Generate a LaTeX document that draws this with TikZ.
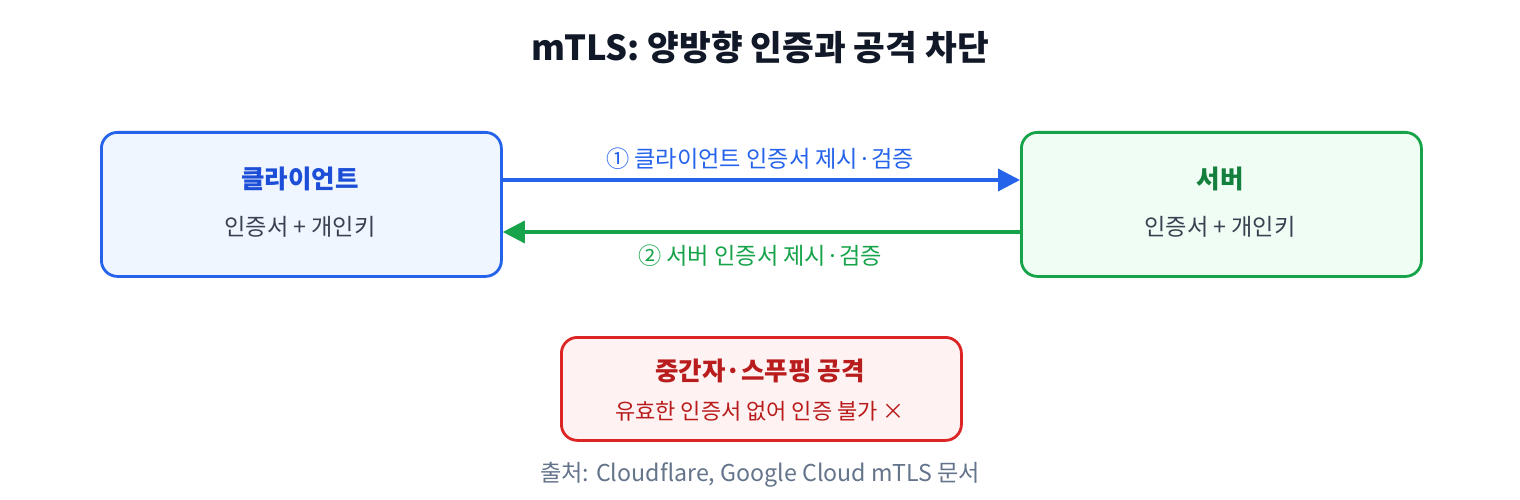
\documentclass[tikz,border=0pt]{standalone}
\usepackage{fontspec}
\setmainfont{Noto Sans CJK KR}
\usetikzlibrary{arrows.meta}
\definecolor{titlec}{HTML}{111827}
\definecolor{bluestroke}{HTML}{2563EB}
\definecolor{bluefill}{HTML}{EFF6FF}
\definecolor{bluetext}{HTML}{1D4ED8}
\definecolor{greenstroke}{HTML}{16A34A}
\definecolor{greenfill}{HTML}{F0FDF4}
\definecolor{greentext}{HTML}{15803D}
\definecolor{redstroke}{HTML}{DC2626}
\definecolor{redfill}{HTML}{FEF2F2}
\definecolor{redtext}{HTML}{B91C1C}
\definecolor{bodyc}{HTML}{374151}
\definecolor{footc}{HTML}{64748B}
\tikzset{
  x=1pt, y=-1pt,
  box/.style={draw, line width=2.8pt, rounded corners=16pt, minimum width=400pt, anchor=north west, inner sep=0pt},
  t/.style={inner sep=0pt, anchor=center},
  arr/.style={line width=3.5pt, -{Triangle[length=22pt,width=22pt]}},
  big/.style={font=\bfseries\fontsize{34.5}{40}\selectfont},
  head/.style={font=\bfseries\fontsize{25.5}{30}\selectfont},
  body/.style={font=\fontsize{23.2}{28}\selectfont},
  small/.style={font=\fontsize{22}{26}\selectfont},
}
\begin{document}
\begin{tikzpicture}
\useasboundingbox (0,0) rectangle (1520,500);
\fill[white] (0,0) rectangle (1520,500);
\node[t, big, text=titlec] (title) at (760,48) {mTLS: 양방향 인증과 공격 차단};
% boxes
\node[box, draw=bluestroke, fill=bluefill, minimum height=144pt] (client) at (100,131) {};
\node[box, draw=greenstroke, fill=greenfill, minimum height=144pt] (server) at (1020,131) {};
\node[box, draw=redstroke, fill=redfill, minimum height=103pt] (attack) at (560,336) {};
% box texts
\node[t, head, text=bluetext] (ct) at (300,179) {클라이언트};
\node[t, body, text=bodyc] (cs) at (300,227) {인증서 + 개인키};
\node[t, head, text=greentext] (st) at (1220,179) {서버};
\node[t, body, text=bodyc] (ss) at (1220,227) {인증서 + 개인키};
\node[t, head, text=redtext] (at) at (760,371) {중간자·스푸핑 공격};
\node[t, small, text=redtext] (as) at (760,411) {유효한 인증서 없어 인증 불가 ×};
% arrows
\coordinate (a1s) at (client.east |- 0,180);
\coordinate (a1e) at (server.west |- 0,180);
\coordinate (a2s) at (server.west |- 0,232);
\coordinate (a2e) at (client.east |- 0,232);
\draw[arr, draw=bluestroke, fill=bluestroke] (a1s) -- (a1e);
\draw[arr, draw=greenstroke, fill=greenstroke] (a2s) -- (a2e);
\node[t, body, text=bluestroke] (l1) at (760,159) {① 클라이언트 인증서 제시·검증};
\node[t, body, text=greenstroke] (l2) at (760,256) {② 서버 인증서 제시·검증};
% footer
\node[t, body, text=footc] (foot) at (760,475) {출처: Cloudflare, Google Cloud mTLS 문서};
\end{tikzpicture}
\end{document}
